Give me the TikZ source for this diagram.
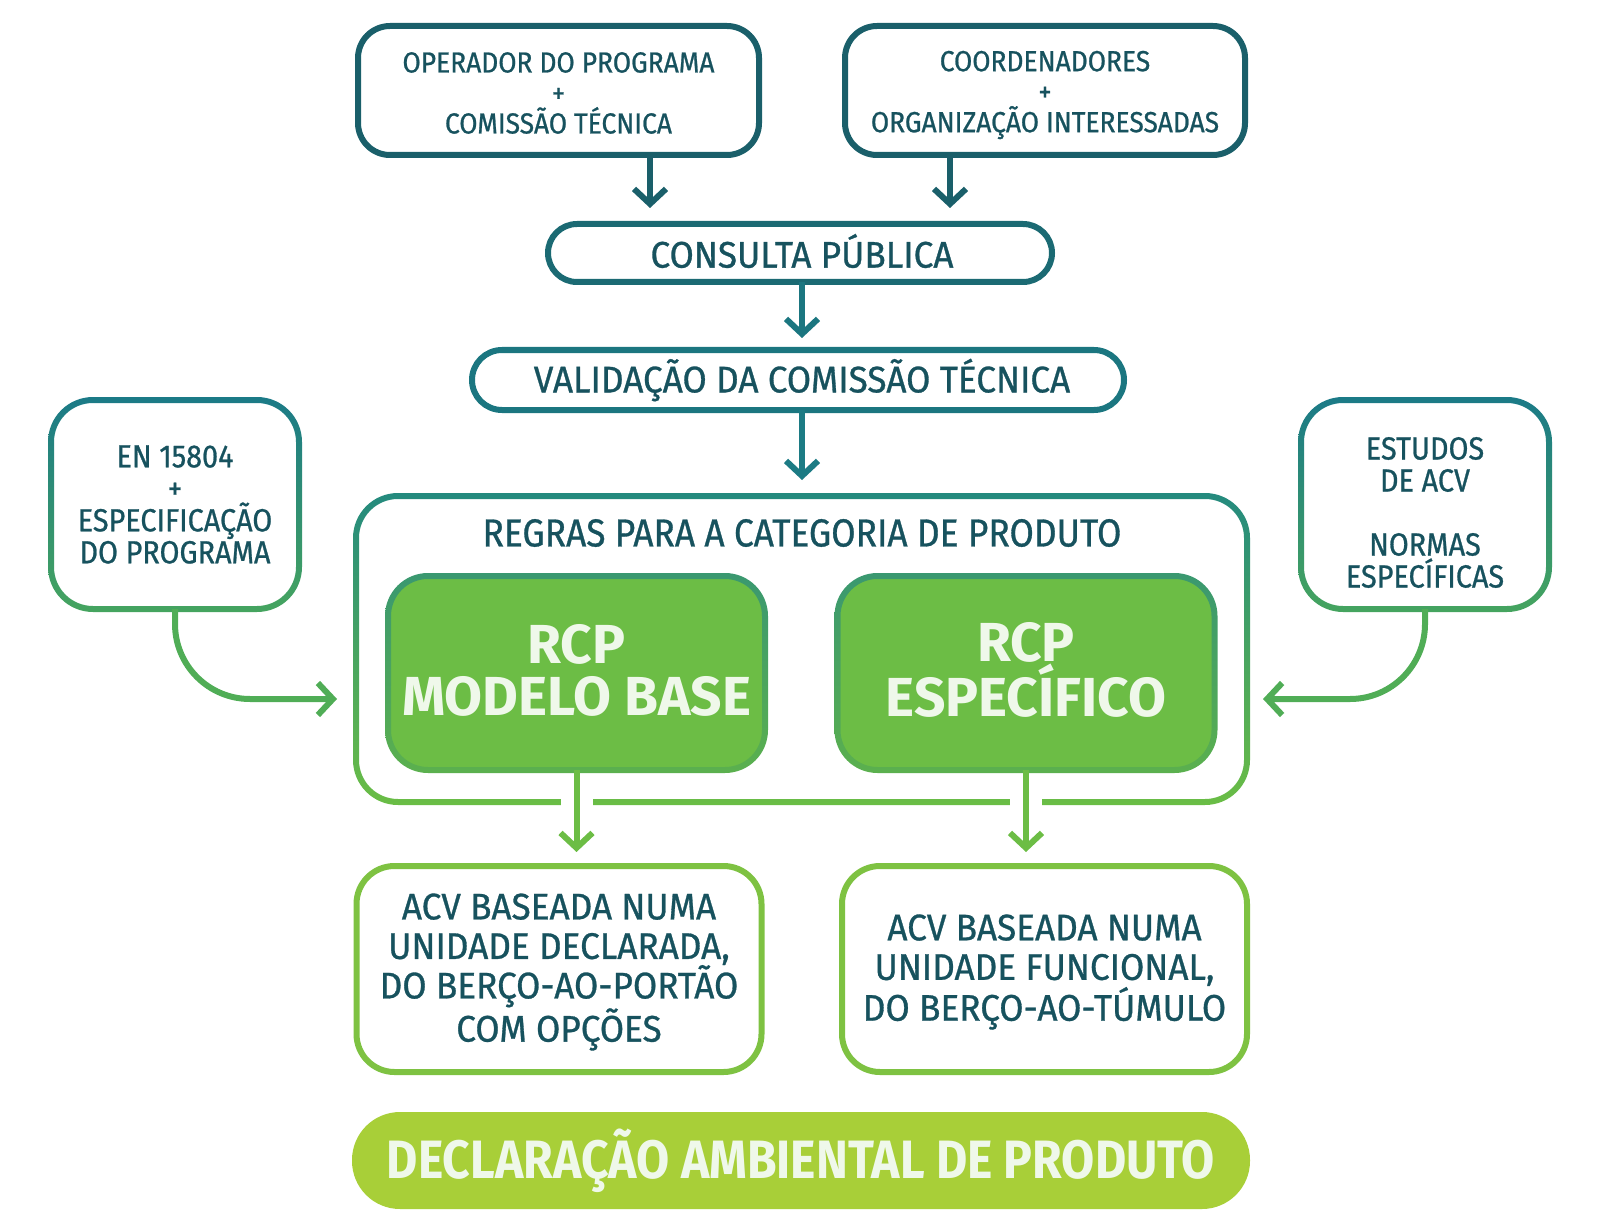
\documentclass[tikz,border=0pt]{standalone}
\usepackage{fontspec}
\setmainfont{Fira Sans}
\newfontfamily\fTop[FakeStretch=0.91,FakeBold=0.8]{Fira Sans}
\newfontfamily\fMid[FakeStretch=0.95,FakeBold=0.8]{Fira Sans}
\newfontfamily\fReg[FakeStretch=0.905,FakeBold=0.8]{Fira Sans}
\newfontfamily\fSide[FakeStretch=0.90,FakeBold=0.8]{Fira Sans}
\newfontfamily\fLow[FakeStretch=0.95,FakeBold=0.8]{Fira Sans}
\newfontfamily\fDap[FakeStretch=0.89]{Fira Sans}
\usetikzlibrary{arrows.meta,calc}
\definecolor{txt}{HTML}{17525E}
\definecolor{tealA}{HTML}{1A5F6A}
\definecolor{tealB}{HTML}{1B6A73}
\definecolor{tealC}{HTML}{1B7680}
\definecolor{tealD}{HTML}{1C7B84}
\definecolor{sideTop}{HTML}{1B7A87}
\definecolor{sideBot}{HTML}{45A45F}
\definecolor{conTop}{HTML}{248A7E}
\definecolor{conBot}{HTML}{6ABD45}
\definecolor{rcpFill}{HTML}{6CBD45}
\definecolor{rcpTop}{HTML}{3A9870}
\definecolor{rcpBot}{HTML}{5BB04E}
\definecolor{lowGreen}{HTML}{7EC242}
\definecolor{pillFill}{HTML}{A8CF38}
\definecolor{lightTxt}{HTML}{EFF8EA}
\definecolor{connG}{HTML}{50AD56}
\newcommand\gradring[6]{%
  \shade[top color=#5,bottom color=#6,even odd rule]
    [rounded corners=#2] ($(#1.north west)+(-#4,-#4)$) rectangle ($(#1.south east)+(#4,#4)$)
    [rounded corners=#3] ($(#1.north west)+(#4,#4)$) rectangle ($(#1.south east)+(-#4,-#4)$);
}
\tikzset{
  base/.style={outer sep=0pt, inner sep=0pt, align=center, text=txt},
  topbox/.style={base, draw=tealA, line width=6pt, rounded corners=32pt},
  toptxt/.style={base, font=\fTop\fontsize{29}{30.5}\selectfont},
  pillbox/.style={base, line width=6pt, rounded corners=29pt},
  pilltxt/.style={base, font=\fMid\fontsize{37}{38}\selectfont},
  sidetxt/.style={base, font=\fSide\fontsize{32}{32}\selectfont},
  rcpbox/.style={base, fill=rcpFill, rounded corners=40pt},
  rcptxt/.style={base, text=lightTxt, font=\fontsize{55}{52}\bfseries\selectfont},
  lowbox/.style={base, draw=lowGreen, line width=6pt, rounded corners=38pt},
  lowtxt/.style={base, font=\fLow\fontsize{37}{39.5}\selectfont},
  arr/.style={line width=6pt, -{Straight Barb[length=15pt,width=32pt]}},
}
\begin{document}
\begin{tikzpicture}[x=1pt,y=-1pt]
\useasboundingbox (0,0) rectangle (1600,1230);

% top boxes
\node[topbox, minimum width=401pt, minimum height=129pt] (tl) at (558.5,90.5) {};
\node[toptxt] (tlt) at (558.5,93) {OPERADOR DO PROGRAMA\\+\\COMISSÃO TÉCNICA};
\node[topbox, minimum width=400pt, minimum height=129pt] (tr) at (1045,90.5) {};
\node[toptxt] (trt) at (1045,95) {COORDENADORES\\+\\ORGANIZAÇÃO INTERESSADAS};

% consulta / validacao
\node[pillbox, draw=tealB, minimum width=504pt, minimum height=58pt] (cp) at (800,253) {};
\node[pilltxt] (cpt) at (802,251) {CONSULTA PÚBLICA};
\node[pillbox, draw=tealC, rounded corners=30pt, minimum width=652pt, minimum height=60pt] (val) at (798,380) {};
\node[pilltxt] (valt) at (802,380) {VALIDAÇÃO DA COMISSÃO TÉCNICA};

% container
\node[base, minimum width=891pt, minimum height=306pt] (cont) at (801.5,649) {};
\gradring{cont}{45pt}{39pt}{3}{conTop}{conBot}
\node[base, font=\fReg\fontsize{39}{40}\selectfont] (regras) at (802,533)
  {REGRAS PARA A CATEGORIA DE PRODUTO};

% RCP boxes
\node[rcpbox, minimum width=377pt, minimum height=194pt] (rcp1) at (576.5,673) {};
\gradring{rcp1}{43pt}{37pt}{3}{rcpTop}{rcpBot}
\node[rcptxt] (rcp1t) at (576.5,670) {RCP\\MODELO BASE};
\node[rcpbox, minimum width=377pt, minimum height=194pt] (rcp2) at (1026,673) {};
\gradring{rcp2}{43pt}{37pt}{3}{rcpTop}{rcpBot}
\node[rcptxt] (rcp2t) at (1026,670) {RCP\\ESPECÍFICO};

% side boxes
\node[base, minimum width=248pt, minimum height=209pt] (sl) at (175,504.5) {};
\gradring{sl}{45pt}{39pt}{3}{sideTop}{sideBot}
\node[sidetxt] (slt) at (175,504.5) {EN 15804\\+\\ESPECIFICAÇÃO\\DO PROGRAMA};
\node[base, minimum width=248pt, minimum height=209pt] (sr) at (1425,504.5) {};
\gradring{sr}{45pt}{39pt}{3}{sideTop}{sideBot}
\node[sidetxt] (srt) at (1425,512.5) {ESTUDOS\\DE ACV\\[32pt]NORMAS\\ESPECÍFICAS};

% lower boxes
\node[lowbox, minimum width=405pt, minimum height=206pt] (lb1) at (559,969) {};
\node[lowtxt] (lb1t) at (559,972)
  {ACV BASEADA NUMA\\UNIDADE DECLARADA,\\DO BERÇO-AO-PORTÃO\\COM OPÇÕES};
\node[lowbox, minimum width=405pt, minimum height=206pt] (lb2) at (1044.5,969) {};
\node[lowtxt] (lb2t) at (1044.5,972)
  {ACV BASEADA NUMA\\UNIDADE FUNCIONAL,\\DO BERÇO-AO-TÚMULO};

% final pill
\node[base, fill=pillFill, text=lightTxt, rounded corners=48pt, minimum width=898pt,
  minimum height=97pt, font=\fDap\fontsize{54}{56}\bfseries\selectfont] (dap) at (801,1160.5)
  {DECLARAÇÃO AMBIENTAL DE PRODUTO};

% gaps in container bottom
\fill[white] ($(rcp1.south |- cont.south)+(-16,-5)$) rectangle ($(rcp1.south |- cont.south)+(16,5)$);
\fill[white] ($(rcp2.south |- cont.south)+(-16,-5)$) rectangle ($(rcp2.south |- cont.south)+(16,5)$);

% arrows
\draw[arr, tealA, shorten >=16pt] ([xshift=91.5pt]tl.south) -- ([xshift=91.5pt]tl.south |- cp.north);
\draw[arr, tealA, shorten >=16pt] ([xshift=-95pt]tr.south) -- ([xshift=-95pt]tr.south |- cp.north);
\draw[arr, tealC, shorten >=12pt] ([xshift=2pt]cp.south) -- ([xshift=2pt]cp.south |- val.north);
\draw[arr, tealD, shorten >=16pt] ([xshift=4pt]val.south) -- ([xshift=4pt]val.south |- cont.north);
\draw[arr, rcpFill, shorten >=14pt] (rcp1.south) -- (rcp1.south |- lb1.north);
\draw[arr, rcpFill, shorten >=14pt] (rcp2.south) -- (rcp2.south |- lb2.north);

\coordinate (inL) at (337,699);
\coordinate (inR) at (1263,699);
\draw[arr, connG, rounded corners=75pt] (sl.south) |- (inL);
\draw[arr, connG, rounded corners=75pt] (sr.south) |- (inR);
\end{tikzpicture}
\end{document}
